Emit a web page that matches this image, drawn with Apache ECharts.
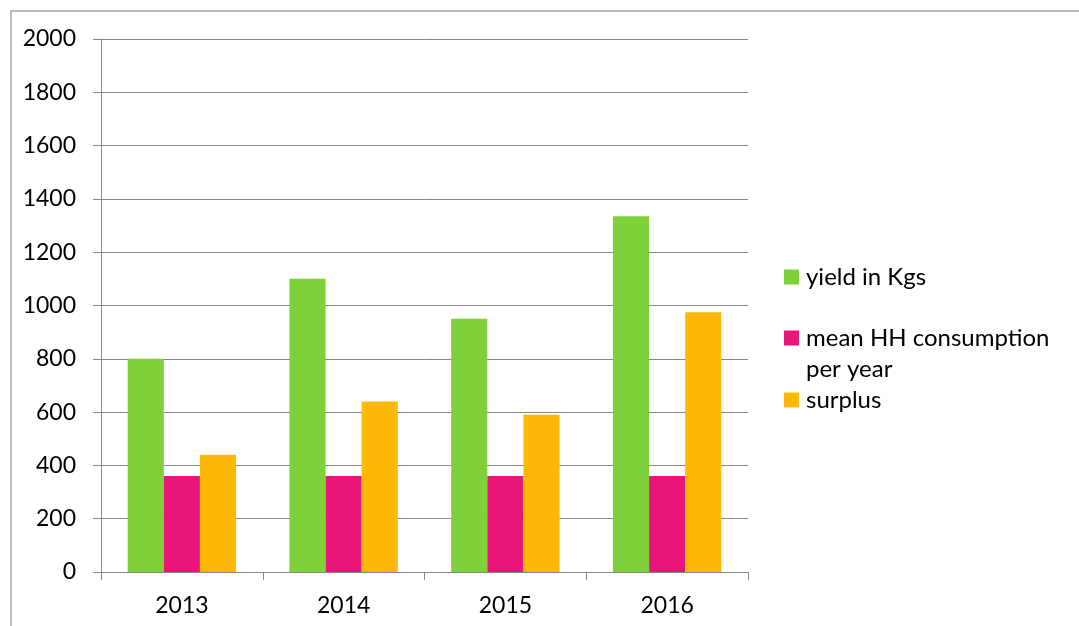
<!DOCTYPE html>
<html>
<head>
<meta charset="utf-8">
<script src="https://cdn.jsdelivr.net/npm/echarts@6/dist/echarts.min.js"></script>
<style>html,body{margin:0;padding:0;background:#fff}#c{width:1079px;height:626px}</style>
</head>
<body>
<div id="c"></div>
<script>
const categories = ['2013', '2014', '2015', '2016'];
const yieldKgs = [800, 1100, 950, 1335];
const consumption = [360, 360, 360, 360];
const surplus = [440, 640, 590, 975];
const seriesNames = ['yield in Kgs', 'mean HH consumption per year', 'surplus'];
const legendLines = ['yield in Kgs', 'mean HH consumption', 'surplus'];
const legendExtraLine = 'per year';
const colors = ['#7fd13b', '#ea157a', '#feb80a'];

const chart = echarts.init(document.getElementById('c'));
const font = 'Lato, "Open Sans", sans-serif';
const FS = 23;
const LFS = 24;
function legendFor(i, centerY) {
  return {
    data: [seriesNames[i]], left: 779, top: centerY - 15.5 - 5, orient: 'vertical',
    icon: 'rect', itemWidth: 15, itemHeight: 15, itemGap: 0,
    formatter: () => legendLines[i],
    textStyle: { fontFamily: font, fontSize: LFS, color: '#000', lineHeight: 31, padding: [0, 0, 0, 2] },
    selectedMode: false
  };
}
chart.setOption({
  animation: false,
  graphic: [{
    type: 'polyline', silent: true,
    shape: { points: [[11, 640], [11, 11], [1090, 11]] },
    style: { stroke: '#a6a6a6', lineWidth: 1.5, fill: null }
  }, {
    type: 'text', left: 806, top: 370 - 13, silent: true,
    style: { text: legendExtraLine, fontFamily: font, fontSize: LFS, fill: '#000' }
  }],
  legend: [
    legendFor(0, 277),
    legendFor(1, 338),
    legendFor(2, 400)
  ],
  grid: { left: 101, right: 331, top: 39, bottom: 54, containLabel: false },
  xAxis: {
    type: 'category', data: categories,
    axisLine: { lineStyle: { color: '#868686', width: 1 } },
    axisTick: { show: true, length: 8, lineStyle: { color: '#868686' } },
    axisLabel: { fontFamily: font, fontSize: FS, color: '#000', margin: 22 }
  },
  yAxis: {
    type: 'value', min: 0, max: 2000, interval: 200,
    axisLine: { show: true, lineStyle: { color: '#868686', width: 1 } },
    axisTick: { show: true, length: 8, lineStyle: { color: '#868686' } },
    axisLabel: { fontFamily: font, fontSize: FS, color: '#000', margin: 25, formatter: v => String(v) },
    splitLine: { lineStyle: { color: '#868686', width: 1 } }
  },
  series: [
    { name: seriesNames[0], type: 'bar', data: yieldKgs, itemStyle: { color: colors[0] }, barGap: '0%', barCategoryGap: '33%' },
    { name: seriesNames[1], type: 'bar', data: consumption, itemStyle: { color: colors[1] }, barGap: '0%', barCategoryGap: '33%' },
    { name: seriesNames[2], type: 'bar', data: surplus, itemStyle: { color: colors[2] }, barGap: '0%', barCategoryGap: '33%' }
  ]
});
</script>
</body>
</html>
